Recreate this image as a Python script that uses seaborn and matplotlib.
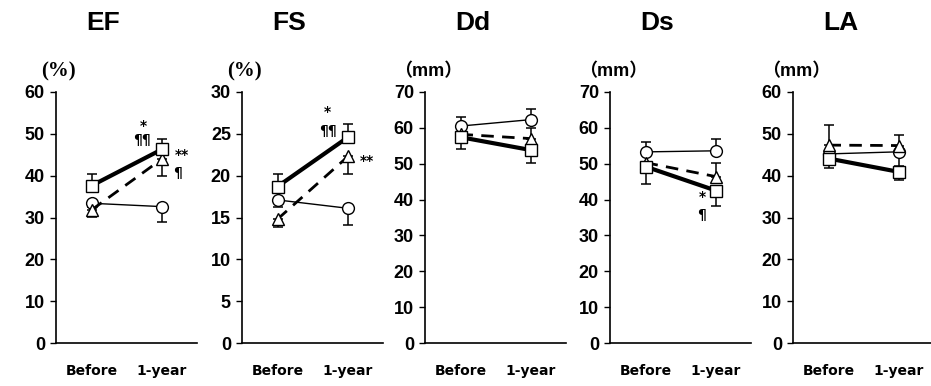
import matplotlib
matplotlib.use("Agg")
import matplotlib.pyplot as plt
import seaborn as sns
import pandas as pd
import numpy as np

# panels and axes
panels = ['EF', 'FS', 'Dd', 'Ds', 'LA']
units = ['(%)', '(%)', '（mm）', '（mm）', '（mm）']
ymax = [60, 30, 70, 70, 60]
ystep = [10, 5, 10, 10, 10]
timepoints = ['Before', '1-year']

# group means (Before, 1-year) for each panel
circle_mean = [[33.4, 32.6], [17.1, 16.1], [60.5, 62.3], [53.3, 53.6], [45.2, 45.7]]
triangle_mean = [[31.8, 44.0], [14.8, 22.3], [58.2, 57.0], [50.3, 46.4], [47.3, 47.2]]
square_mean = [[37.6, 46.3], [18.7, 24.6], [57.4, 53.8], [49.2, 42.5], [44.1, 40.9]]

# one-sided error bars: + drawn upward, - drawn downward
circle_err = [[-1.0, -3.6], [-0.8, -2.0], [2.6, 2.9], [2.7, 3.2], [-1.0, -3.5]]
triangle_err = [[-1.6, -4.0], [-0.9, -2.1], [-1.5, 3.0], [2.0, 3.7], [4.7, 2.5]]
square_err = [[2.7, 2.5], [1.5, 1.6], [-3.4, -3.6], [-4.8, -4.3], [-2.2, -1.9]]

# significance marks: panel index, x (0=Before, 1=1-year), y, text
ann_panel = [0, 0, 0, 0, 1, 1, 1, 3, 3]
ann_x = [0.73, 0.71, 1.28, 1.22, 0.70, 0.72, 1.27, 0.80, 0.80]
ann_y = [51.9, 48.6, 44.9, 40.6, 27.6, 25.4, 21.8, 40.8, 35.8]
ann_text = ['*', '¶¶', '**', '¶', '*', '¶¶', '**', '*', '¶']

sns.set_style("ticks")
plt.rcParams['font.family'] = ['Liberation Sans', 'DejaVu Sans']
plt.rcParams['text.color'] = 'black'
plt.rcParams['xtick.color'] = 'black'
plt.rcParams['ytick.color'] = 'black'
plt.rcParams['axes.edgecolor'] = 'black'

fig = plt.figure(figsize=(9.31, 3.86), dpi=100)
W, H = 931, 386
lefts = [56, 242, 425, 610, 793]

groups = ['circle', 'triangle', 'square']
means = {'circle': circle_mean, 'triangle': triangle_mean, 'square': square_mean}
errs = {'circle': circle_err, 'triangle': triangle_err, 'square': square_err}

for i, name in enumerate(panels):
    ax = fig.add_axes([lefts[i] / W, 43 / H, 141 / W, 251 / H])

    rows = []
    for g in groups:
        for t in range(2):
            rows.append({'time': t, 'value': means[g][i][t], 'group': g})
    df = pd.DataFrame(rows)

    # one-sided error bars under the markers
    for g in groups:
        e = np.array(errs[g][i])
        lo = np.where(e < 0, -e, 0)
        hi = np.where(e > 0, e, 0)
        ax.errorbar([0, 1], means[g][i], yerr=[lo, hi], fmt='none', ecolor='black',
                    elinewidth=1.1, capsize=3.5, capthick=1.1, zorder=1.5)

    sns.lineplot(data=df, x='time', y='value', hue='group', style='group', size='group',
                 hue_order=groups, style_order=groups, size_order=groups,
                 palette={'circle': 'black', 'triangle': 'black', 'square': 'black'},
                 markers={'circle': 'o', 'triangle': '^', 'square': 's'},
                 dashes={'circle': '', 'triangle': (4.5, 3), 'square': ''},
                 sizes={'circle': 1.0, 'triangle': 2.0, 'square': 3.0},
                 markersize=8.5, markerfacecolor='white', markeredgecolor='black',
                 markeredgewidth=1.0, legend=False, ax=ax)

    ax.set_xlim(-35.5 / 70.5, (141 - 35.5) / 70.5)
    ax.set_ylim(0, ymax[i])
    ax.set_yticks(np.arange(0, ymax[i] + 1, ystep[i]))
    ax.set_xticks([0, 1])
    ax.set_xticklabels(timepoints, fontsize=10, fontweight='bold', family='DejaVu Sans')
    ax.tick_params(axis='x', length=0, pad=15)
    ax.tick_params(axis='y', length=4, width=1.0, direction='out', pad=4,
                   labelsize=13, color='black')
    for lab in ax.get_yticklabels():
        lab.set_fontweight('bold')
    ax.set_xlabel('')
    ax.set_ylabel('')
    sns.despine(ax=ax)
    for s in ['left', 'bottom']:
        ax.spines[s].set_color('black')
        ax.spines[s].set_linewidth(1.2)

    ax.text(0.17, 1.275, name, transform=ax.get_xaxis_transform(), ha='center', va='center',
            fontsize=19, fontweight='bold')
    if units[i] == '(%)':
        ax.text(0.02, 1.08, units[i], transform=ax.transAxes, ha='center', va='center',
                fontsize=15, fontweight='bold', family='Liberation Serif')
    else:
        ax.text(0.02, 1.08, units[i], transform=ax.transAxes, ha='center', va='center',
                fontsize=13, fontweight='bold', family=['Liberation Sans', 'Noto Sans CJK JP'])

    for p, x, y, t in zip(ann_panel, ann_x, ann_y, ann_text):
        if p == i:
            ax.text(x, y, t, ha='center', va='center', fontsize=10, fontweight='bold',
                    family='DejaVu Sans')

fig.savefig('out.png', dpi=100)
